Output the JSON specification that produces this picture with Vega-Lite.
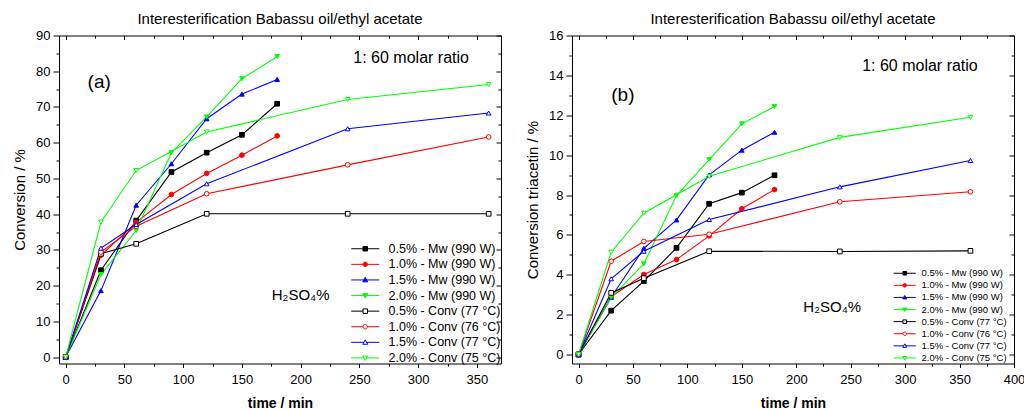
{
  "$schema": "https://vega.github.io/schema/vega-lite/v6.json",
  "background": "white",
  "padding": {"left": 12, "top": 11.5, "right": 0, "bottom": 0},
  "spacing": 23,
  "config": {
    "font": "Liberation Sans",
    "view": {"stroke": null},
    "title": {"fontSize": 15, "fontWeight": "normal", "offset": 3, "anchor": "middle", "color": "black"},
    "axis": {"domainColor": "black", "domainWidth": 1, "tickColor": "black", "tickWidth": 1, "labelColor": "black", "titleColor": "black", "grid": false, "labelFontSize": 13, "labelOverlap": false, "labelFlush": false},
    "text": {"color": "black"}
  },
  "resolve": {"scale": {"color": "independent"}, "legend": {"color": "independent"}},
  "datasets": {
    "a": [
      {"s": "0.5% - Mw (990 W)", "t": 0, "v": 0}, {"s": "0.5% - Mw (990 W)", "t": 30, "v": 24.3}, {"s": "0.5% - Mw (990 W)", "t": 60, "v": 38.2}, {"s": "0.5% - Mw (990 W)", "t": 90, "v": 51.8}, {"s": "0.5% - Mw (990 W)", "t": 120, "v": 57.2}, {"s": "0.5% - Mw (990 W)", "t": 150, "v": 62.2}, {"s": "0.5% - Mw (990 W)", "t": 180, "v": 70.9},
      {"s": "1.0% - Mw (990 W)", "t": 0, "v": 0}, {"s": "1.0% - Mw (990 W)", "t": 30, "v": 28.5}, {"s": "1.0% - Mw (990 W)", "t": 60, "v": 37.7}, {"s": "1.0% - Mw (990 W)", "t": 90, "v": 45.5}, {"s": "1.0% - Mw (990 W)", "t": 120, "v": 51.4}, {"s": "1.0% - Mw (990 W)", "t": 150, "v": 56.5}, {"s": "1.0% - Mw (990 W)", "t": 180, "v": 61.9},
      {"s": "1.5% - Mw (990 W)", "t": 0, "v": 0}, {"s": "1.5% - Mw (990 W)", "t": 30, "v": 18.6}, {"s": "1.5% - Mw (990 W)", "t": 60, "v": 42.5}, {"s": "1.5% - Mw (990 W)", "t": 90, "v": 54.1}, {"s": "1.5% - Mw (990 W)", "t": 120, "v": 66.7}, {"s": "1.5% - Mw (990 W)", "t": 150, "v": 73.6}, {"s": "1.5% - Mw (990 W)", "t": 180, "v": 77.7},
      {"s": "2.0% - Mw  (990 W)", "t": 0, "v": 0}, {"s": "2.0% - Mw  (990 W)", "t": 30, "v": 23.1}, {"s": "2.0% - Mw  (990 W)", "t": 60, "v": 35.4}, {"s": "2.0% - Mw  (990 W)", "t": 90, "v": 57.2}, {"s": "2.0% - Mw  (990 W)", "t": 120, "v": 67.2}, {"s": "2.0% - Mw  (990 W)", "t": 150, "v": 77.9}, {"s": "2.0% - Mw  (990 W)", "t": 180, "v": 84.1},
      {"s": "0.5% - Conv (77 °C)", "t": 0, "v": 0}, {"s": "0.5% - Conv (77 °C)", "t": 30, "v": 28.9}, {"s": "0.5% - Conv (77 °C)", "t": 60, "v": 31.7}, {"s": "0.5% - Conv (77 °C)", "t": 120, "v": 40.1}, {"s": "0.5% - Conv (77 °C)", "t": 240, "v": 40.1}, {"s": "0.5% - Conv (77 °C)", "t": 360, "v": 40.1},
      {"s": "1.0% - Conv (76 °C)", "t": 0, "v": 0}, {"s": "1.0% - Conv (76 °C)", "t": 30, "v": 29.4}, {"s": "1.0% - Conv (76 °C)", "t": 60, "v": 36.6}, {"s": "1.0% - Conv (76 °C)", "t": 120, "v": 45.7}, {"s": "1.0% - Conv (76 °C)", "t": 240, "v": 53.8}, {"s": "1.0% - Conv (76 °C)", "t": 360, "v": 61.6},
      {"s": "1.5% - Conv (77 °C)", "t": 0, "v": 0}, {"s": "1.5% - Conv (77 °C)", "t": 30, "v": 30.5}, {"s": "1.5% - Conv (77 °C)", "t": 60, "v": 37.1}, {"s": "1.5% - Conv (77 °C)", "t": 120, "v": 48.5}, {"s": "1.5% - Conv (77 °C)", "t": 240, "v": 63.9}, {"s": "1.5% - Conv (77 °C)", "t": 360, "v": 68.3},
      {"s": "2.0% - Conv (75 °C)", "t": 0, "v": 0}, {"s": "2.0% - Conv (75 °C)", "t": 30, "v": 37.8}, {"s": "2.0% - Conv (75 °C)", "t": 60, "v": 52.2}, {"s": "2.0% - Conv (75 °C)", "t": 120, "v": 63.0}, {"s": "2.0% - Conv (75 °C)", "t": 240, "v": 72.1}, {"s": "2.0% - Conv (75 °C)", "t": 360, "v": 76.3}
    ],
    "b": [
      {"s": "0.5% - Mw (990 W)", "t": 0, "v": 0}, {"s": "0.5% - Mw (990 W)", "t": 30, "v": 2.2}, {"s": "0.5% - Mw (990 W)", "t": 60, "v": 3.68}, {"s": "0.5% - Mw (990 W)", "t": 90, "v": 5.35}, {"s": "0.5% - Mw (990 W)", "t": 120, "v": 7.56}, {"s": "0.5% - Mw (990 W)", "t": 150, "v": 8.12}, {"s": "0.5% - Mw (990 W)", "t": 180, "v": 8.99},
      {"s": "1.0% - Mw (990 W)", "t": 0, "v": 0}, {"s": "1.0% - Mw (990 W)", "t": 30, "v": 2.9}, {"s": "1.0% - Mw (990 W)", "t": 60, "v": 4.01}, {"s": "1.0% - Mw (990 W)", "t": 90, "v": 4.76}, {"s": "1.0% - Mw (990 W)", "t": 120, "v": 5.95}, {"s": "1.0% - Mw (990 W)", "t": 150, "v": 7.31}, {"s": "1.0% - Mw (990 W)", "t": 180, "v": 8.27},
      {"s": "1.5% - Mw (990 W)", "t": 0, "v": 0}, {"s": "1.5% - Mw (990 W)", "t": 30, "v": 2.87}, {"s": "1.5% - Mw (990 W)", "t": 60, "v": 5.33}, {"s": "1.5% - Mw (990 W)", "t": 90, "v": 6.75}, {"s": "1.5% - Mw (990 W)", "t": 120, "v": 9.01}, {"s": "1.5% - Mw (990 W)", "t": 150, "v": 10.25}, {"s": "1.5% - Mw (990 W)", "t": 180, "v": 11.15},
      {"s": "2.0% - Mw (990 W)", "t": 0, "v": 0}, {"s": "2.0% - Mw (990 W)", "t": 30, "v": 2.87}, {"s": "2.0% - Mw (990 W)", "t": 60, "v": 4.55}, {"s": "2.0% - Mw (990 W)", "t": 90, "v": 7.97}, {"s": "2.0% - Mw (990 W)", "t": 120, "v": 9.78}, {"s": "2.0% - Mw (990 W)", "t": 150, "v": 11.57}, {"s": "2.0% - Mw (990 W)", "t": 180, "v": 12.44},
      {"s": "0.5% - Conv (77 °C)", "t": 0, "v": 0}, {"s": "0.5% - Conv (77 °C)", "t": 30, "v": 3.09}, {"s": "0.5% - Conv (77 °C)", "t": 60, "v": 3.83}, {"s": "0.5% - Conv (77 °C)", "t": 120, "v": 5.18}, {"s": "0.5% - Conv (77 °C)", "t": 240, "v": 5.17}, {"s": "0.5% - Conv (77 °C)", "t": 360, "v": 5.2},
      {"s": "1.0% - Conv (76 °C)", "t": 0, "v": 0}, {"s": "1.0% - Conv (76 °C)", "t": 30, "v": 4.68}, {"s": "1.0% - Conv (76 °C)", "t": 60, "v": 5.67}, {"s": "1.0% - Conv (76 °C)", "t": 120, "v": 6.03}, {"s": "1.0% - Conv (76 °C)", "t": 240, "v": 7.66}, {"s": "1.0% - Conv (76 °C)", "t": 360, "v": 8.16},
      {"s": "1.5% - Conv (77 °C)", "t": 0, "v": 0}, {"s": "1.5% - Conv (77 °C)", "t": 30, "v": 3.8}, {"s": "1.5% - Conv (77 °C)", "t": 60, "v": 5.18}, {"s": "1.5% - Conv (77 °C)", "t": 120, "v": 6.77}, {"s": "1.5% - Conv (77 °C)", "t": 240, "v": 8.41}, {"s": "1.5% - Conv (77 °C)", "t": 360, "v": 9.73},
      {"s": "2.0% - Conv (75 °C)", "t": 0, "v": 0}, {"s": "2.0% - Conv (75 °C)", "t": 30, "v": 5.13}, {"s": "2.0% - Conv (75 °C)", "t": 60, "v": 7.09}, {"s": "2.0% - Conv (75 °C)", "t": 120, "v": 8.94}, {"s": "2.0% - Conv (75 °C)", "t": 240, "v": 10.89}, {"s": "2.0% - Conv (75 °C)", "t": 360, "v": 11.9}
    ],
    "annA": [
      {"role": "panel", "t": 28.5, "v": 76.9, "text": "(a)"},
      {"role": "ratio", "t": 294, "v": 83.6, "text": "1: 60 molar ratio"},
      {"role": "acid", "t": 200, "v": 17.3, "text": "H₂SO₄%"}
    ],
    "annB": [
      {"role": "panel", "t": 40.7, "v": 13.04, "text": "(b)"},
      {"role": "ratio", "t": 313.6, "v": 14.49, "text": "1: 60 molar ratio"},
      {"role": "acid", "t": 233, "v": 2.36, "text": "H₂SO₄%"}
    ]
  },
  "hconcat": [
    {
      "width": 442,
      "height": 328,
      "title": {"text": "Interesterification Babassu oil/ethyl acetate"},
      "layer": [
        {
          "data": {"name": "a"},
          "mark": {"type": "line", "strokeWidth": 1.1},
          "encoding": {
            "x": {"field": "t", "type": "quantitative", "scale": {"domain": [-5.7, 370.5], "nice": false, "zero": false},
              "axis": {"orient": "bottom", "values": [0, 25, 50, 75, 100, 125, 150, 175, 200, 225, 250, 275, 300, 325, 350], "labelExpr": "datum.value % 50 === 0 ? datum.label : ''", "tickSize": {"condition": {"test": "datum.value % 50 === 0", "value": 4}, "value": 2.5}, "labelPadding": 6, "title": "time / min", "titleFontSize": 14, "titleFontWeight": "bold", "titlePadding": 10}},
            "y": {"field": "v", "type": "quantitative", "scale": {"domain": [-1.8, 90], "nice": false, "zero": false},
              "axis": {"orient": "left", "values": [0, 5, 10, 15, 20, 25, 30, 35, 40, 45, 50, 55, 60, 65, 70, 75, 80, 85, 90], "labelExpr": "datum.value % 10 === 0 ? datum.label : ''", "tickSize": {"condition": {"test": "datum.value % 10 === 0", "value": 6}, "value": 3}, "labelPadding": 3, "title": "Conversion / %", "titleFontSize": 15, "titleFontWeight": "normal", "titlePadding": 8}},
            "color": {"field": "s", "type": "nominal",
              "scale": {"domain": ["0.5% - Mw (990 W)", "1.0% - Mw (990 W)", "1.5% - Mw (990 W)", "2.0% - Mw  (990 W)", "0.5% - Conv (77 °C)", "1.0% - Conv (76 °C)", "1.5% - Conv (77 °C)", "2.0% - Conv (75 °C)"], "range": ["#000000", "#ff0000", "#0000ff", "#00ff00", "#000000", "#ff0000", "#0000ff", "#00ff00"]},
              "legend": {"orient": "none", "legendX": 300, "legendY": 207, "title": null, "padding": 0, "symbolSize": 100, "symbolStrokeWidth": 1, "labelFontSize": 12.5, "labelColor": "black", "labelOffset": 17, "rowPadding": 2.6,
                "encode": {"symbols": {"update": {
                  "shape": {"signal": "indexof(datum.value,'0.5%')>=0 ? 'M-2.8,0H-0.45M0.45,0H2.8M-0.45,-0.45H0.45V0.45H-0.45Z' : indexof(datum.value,'1.0%')>=0 ? 'M-2.8,0H-0.45M0.45,0H2.8M0.45,0A0.45,0.45,0,1,1,-0.45,0A0.45,0.45,0,1,1,0.45,0Z' : indexof(datum.value,'1.5%')>=0 ? 'M-2.8,0H-0.28M0.28,0H2.8M0,-0.5L0.5,0.38H-0.5Z' : 'M-2.8,0H-0.28M0.28,0H2.8M0,0.5L0.5,-0.38H-0.5Z'"},
                  "fill": {"signal": "indexof(datum.value,'Conv')>=0 ? 'white' : (indexof(datum.value,'0.5%')>=0 ? '#000000' : indexof(datum.value,'1.0%')>=0 ? '#ff0000' : indexof(datum.value,'1.5%')>=0 ? '#0000ff' : '#00ff00')"},
                  "opacity": {"value": 1}}}}}}
          }
        },
        {
          "data": {"name": "a"},
          "mark": {"type": "point", "size": 22, "strokeWidth": 1, "opacity": 1},
          "encoding": {
            "x": {"field": "t", "type": "quantitative", "axis": {"orient": "top", "values": [0, 25, 50, 75, 100, 125, 150, 175, 200, 225, 250, 275, 300, 325, 350], "labels": false, "title": null, "tickSize": {"condition": {"test": "datum.value % 50 === 0", "value": -4}, "value": -2.5}}},
            "y": {"field": "v", "type": "quantitative", "axis": {"orient": "right", "values": [0, 5, 10, 15, 20, 25, 30, 35, 40, 45, 50, 55, 60, 65, 70, 75, 80, 85, 90], "labels": false, "title": null, "tickSize": {"condition": {"test": "datum.value % 10 === 0", "value": -5}, "value": -3}}},
            "shape": {"condition": [{"test": "indexof(datum.s,'0.5%')>=0", "value": "square"}, {"test": "indexof(datum.s,'1.0%')>=0", "value": "circle"}, {"test": "indexof(datum.s,'1.5%')>=0", "value": "triangle-up"}], "value": "triangle-down"},
            "stroke": {"condition": [{"test": "indexof(datum.s,'0.5%')>=0", "value": "#000000"}, {"test": "indexof(datum.s,'1.0%')>=0", "value": "#ff0000"}, {"test": "indexof(datum.s,'1.5%')>=0", "value": "#0000ff"}], "value": "#00ff00"},
            "fill": {"condition": [{"test": "indexof(datum.s,'Conv')>=0", "value": "#ffffff"}, {"test": "indexof(datum.s,'0.5%')>=0", "value": "#000000"}, {"test": "indexof(datum.s,'1.0%')>=0", "value": "#ff0000"}, {"test": "indexof(datum.s,'1.5%')>=0", "value": "#0000ff"}], "value": "#00ff00"}
          }
        },
        {
          "data": {"name": "annA"},
          "transform": [{"filter": "datum.role === 'panel'"}],
          "mark": {"type": "text", "fontSize": 19, "align": "center", "baseline": "middle"},
          "encoding": {"x": {"field": "t", "type": "quantitative", "axis": null}, "y": {"field": "v", "type": "quantitative", "axis": null}, "text": {"field": "text"}}
        },
        {
          "data": {"name": "annA"},
          "transform": [{"filter": "datum.role === 'ratio'"}],
          "mark": {"type": "text", "fontSize": 16, "align": "center", "baseline": "middle"},
          "encoding": {"x": {"field": "t", "type": "quantitative", "axis": null}, "y": {"field": "v", "type": "quantitative", "axis": null}, "text": {"field": "text"}}
        },
        {
          "data": {"name": "annA"},
          "transform": [{"filter": "datum.role === 'acid'"}],
          "mark": {"type": "text", "fontSize": 15, "align": "center", "baseline": "middle"},
          "encoding": {"x": {"field": "t", "type": "quantitative", "axis": null}, "y": {"field": "v", "type": "quantitative", "axis": null}, "text": {"field": "text"}}
        }
      ]
    },
    {
      "width": 442,
      "height": 328,
      "title": {"text": "Interesterification Babassu oil/ethyl acetate"},
      "layer": [
        {
          "data": {"name": "b"},
          "mark": {"type": "line", "strokeWidth": 1.1},
          "encoding": {
            "x": {"field": "t", "type": "quantitative", "scale": {"domain": [-6, 400], "nice": false, "zero": false},
              "axis": {"orient": "bottom", "values": [0, 25, 50, 75, 100, 125, 150, 175, 200, 225, 250, 275, 300, 325, 350, 375, 400], "labelExpr": "datum.value % 50 === 0 ? datum.label : ''", "tickSize": {"condition": {"test": "datum.value % 50 === 0", "value": 4}, "value": 2.5}, "labelPadding": 6, "title": "time / min", "titleFontSize": 14, "titleFontWeight": "bold", "titlePadding": 10}},
            "y": {"field": "v", "type": "quantitative", "scale": {"domain": [-0.45, 16], "nice": false, "zero": false},
              "axis": {"orient": "left", "values": [0, 1, 2, 3, 4, 5, 6, 7, 8, 9, 10, 11, 12, 13, 14, 15, 16], "labelExpr": "datum.value % 2 === 0 ? datum.label : ''", "tickSize": {"condition": {"test": "datum.value % 2 === 0", "value": 6}, "value": 3}, "labelPadding": 3, "title": "Conversion triacetin / %", "titleFontSize": 15, "titleFontWeight": "normal", "titlePadding": 8}},
            "color": {"field": "s", "type": "nominal",
              "scale": {"domain": ["0.5% - Mw (990 W)", "1.0% - Mw (990 W)", "1.5% - Mw (990 W)", "2.0% - Mw (990 W)", "0.5% - Conv (77 °C)", "1.0% - Conv (76 °C)", "1.5% - Conv (77 °C)", "2.0% - Conv (75 °C)"], "range": ["#000000", "#ff0000", "#0000ff", "#00ff00", "#000000", "#ff0000", "#0000ff", "#00ff00"]},
              "legend": {"orient": "none", "legendX": 328, "legendY": 233, "title": null, "padding": 0, "symbolSize": 62, "symbolStrokeWidth": 1, "labelFontSize": 9.5, "labelColor": "black", "labelOffset": 12, "rowPadding": 1.1,
                "encode": {"symbols": {"update": {
                  "shape": {"signal": "indexof(datum.value,'0.5%')>=0 ? 'M-2.8,0H-0.45M0.45,0H2.8M-0.45,-0.45H0.45V0.45H-0.45Z' : indexof(datum.value,'1.0%')>=0 ? 'M-2.8,0H-0.45M0.45,0H2.8M0.45,0A0.45,0.45,0,1,1,-0.45,0A0.45,0.45,0,1,1,0.45,0Z' : indexof(datum.value,'1.5%')>=0 ? 'M-2.8,0H-0.28M0.28,0H2.8M0,-0.5L0.5,0.38H-0.5Z' : 'M-2.8,0H-0.28M0.28,0H2.8M0,0.5L0.5,-0.38H-0.5Z'"},
                  "fill": {"signal": "indexof(datum.value,'Conv')>=0 ? 'white' : (indexof(datum.value,'0.5%')>=0 ? '#000000' : indexof(datum.value,'1.0%')>=0 ? '#ff0000' : indexof(datum.value,'1.5%')>=0 ? '#0000ff' : '#00ff00')"},
                  "opacity": {"value": 1}}}}}}
          }
        },
        {
          "data": {"name": "b"},
          "mark": {"type": "point", "size": 22, "strokeWidth": 1, "opacity": 1},
          "encoding": {
            "x": {"field": "t", "type": "quantitative", "axis": {"orient": "top", "values": [0, 25, 50, 75, 100, 125, 150, 175, 200, 225, 250, 275, 300, 325, 350, 375, 400], "labels": false, "title": null, "tickSize": {"condition": {"test": "datum.value % 50 === 0", "value": -4}, "value": -2.5}}},
            "y": {"field": "v", "type": "quantitative", "axis": {"orient": "right", "values": [0, 1, 2, 3, 4, 5, 6, 7, 8, 9, 10, 11, 12, 13, 14, 15, 16], "labels": false, "title": null, "tickSize": {"condition": {"test": "datum.value % 2 === 0", "value": -5}, "value": -3}}},
            "shape": {"condition": [{"test": "indexof(datum.s,'0.5%')>=0", "value": "square"}, {"test": "indexof(datum.s,'1.0%')>=0", "value": "circle"}, {"test": "indexof(datum.s,'1.5%')>=0", "value": "triangle-up"}], "value": "triangle-down"},
            "stroke": {"condition": [{"test": "indexof(datum.s,'0.5%')>=0", "value": "#000000"}, {"test": "indexof(datum.s,'1.0%')>=0", "value": "#ff0000"}, {"test": "indexof(datum.s,'1.5%')>=0", "value": "#0000ff"}], "value": "#00ff00"},
            "fill": {"condition": [{"test": "indexof(datum.s,'Conv')>=0", "value": "#ffffff"}, {"test": "indexof(datum.s,'0.5%')>=0", "value": "#000000"}, {"test": "indexof(datum.s,'1.0%')>=0", "value": "#ff0000"}, {"test": "indexof(datum.s,'1.5%')>=0", "value": "#0000ff"}], "value": "#00ff00"}
          }
        },
        {
          "data": {"name": "annB"},
          "transform": [{"filter": "datum.role === 'panel'"}],
          "mark": {"type": "text", "fontSize": 19, "align": "center", "baseline": "middle"},
          "encoding": {"x": {"field": "t", "type": "quantitative", "axis": null}, "y": {"field": "v", "type": "quantitative", "axis": null}, "text": {"field": "text"}}
        },
        {
          "data": {"name": "annB"},
          "transform": [{"filter": "datum.role === 'ratio'"}],
          "mark": {"type": "text", "fontSize": 16, "align": "center", "baseline": "middle"},
          "encoding": {"x": {"field": "t", "type": "quantitative", "axis": null}, "y": {"field": "v", "type": "quantitative", "axis": null}, "text": {"field": "text"}}
        },
        {
          "data": {"name": "annB"},
          "transform": [{"filter": "datum.role === 'acid'"}],
          "mark": {"type": "text", "fontSize": 15, "align": "center", "baseline": "middle"},
          "encoding": {"x": {"field": "t", "type": "quantitative", "axis": null}, "y": {"field": "v", "type": "quantitative", "axis": null}, "text": {"field": "text"}}
        }
      ]
    }
  ]
}
